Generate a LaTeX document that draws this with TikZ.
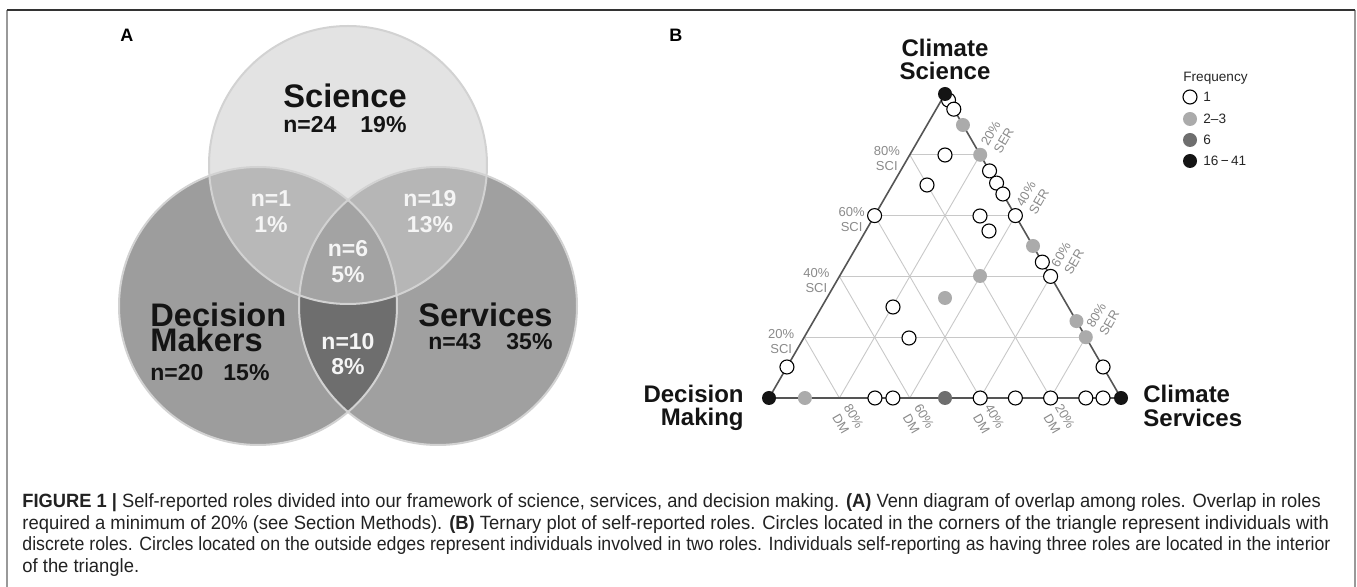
\documentclass[tikz,border=0pt]{standalone}
\usepackage{fontspec}
\setmainfont{Liberation Sans}
\newfontfamily\capfont[FakeStretch=0.96]{Liberation Sans}
\usetikzlibrary{calc}
\definecolor{sciC}{HTML}{E3E3E3}
\definecolor{dmC}{HTML}{9D9D9D}
\definecolor{serC}{HTML}{A0A0A0}
\definecolor{scidmC}{HTML}{B8B8B8}
\definecolor{sciserC}{HTML}{B6B6B6}
\definecolor{tripC}{HTML}{A3A3A3}
\definecolor{dmserC}{HTML}{6E6E6E}
\definecolor{ringC}{HTML}{D2D2D2}
\definecolor{gridC}{HTML}{C8C8C8}
\definecolor{edgeC}{HTML}{555555}
\definecolor{tickC}{HTML}{8A8A8A}
\definecolor{gtwo}{HTML}{ABABAB}
\definecolor{gsix}{HTML}{6E6E6E}
\definecolor{capC}{HTML}{222222}
\definecolor{frameC}{HTML}{999999}
\begin{document}
\begin{tikzpicture}[x=0.5pt,y=-0.5pt,
  vlab/.style={font=\fontsize{16.3}{19}\selectfont\bfseries, text=black!92, inner sep=0pt},
  vnum/.style={font=\fontsize{11.5}{13}\selectfont\bfseries, text=black!92, inner sep=0pt},
  wnum/.style={font=\fontsize{11.5}{13}\selectfont\bfseries, text=white!96!black, inner sep=0pt},
  plab/.style={font=\fontsize{9}{10}\selectfont\bfseries, inner sep=0pt},
  clab/.style={font=\fontsize{12}{11.5}\selectfont\bfseries, text=black!92, inner sep=0pt},
  tlab/.style={font=\fontsize{6.5}{7.5}\selectfont, text=tickC, inner sep=0pt, align=center},
  gridline/.style={draw=gridC, line width=0.45pt},
  edgeline/.style={draw=edgeC, line width=0.8pt},
  ring/.style={draw=ringC, line width=1pt},
  dot/.style={circle, inner sep=0pt, minimum size=7pt, line width=0.55pt},
  opendot/.style={dot, draw=black, fill=white},
  twodot/.style={dot, fill=gtwo},
  sixdot/.style={dot, fill=gsix},
  bigdot/.style={dot, fill=black!92},
  capline/.style={font=\capfont\fontsize{9.6}{11}\selectfont, text=capC, inner sep=0pt, anchor=base west},
  leg/.style={font=\fontsize{6.8}{8}\selectfont, text=black!85, inner sep=0pt, anchor=west}
]
\useasboundingbox (0,0) rectangle (1357,587);
% frame
\coordinate (fTL) at (7,10); \coordinate (fTR) at (1355,10);
\coordinate (fBL) at (7,587); \coordinate (fBR) at (1355,587);
\draw[frameC, line width=0.8pt] (fTL) -- (fBL);
\draw[frameC, line width=0.8pt] (fTR) -- (fBR);
\draw[black!80, line width=0.8pt] (fTL) -- (fTR);

% ---------------- Venn ----------------
\coordinate (cDM) at (258,306);
\coordinate (cSER) at (438,306);
\coordinate (cSCI) at (348,165);
\def\rr{69.5pt}
\fill[dmC] (cDM) circle[radius=\rr];
\fill[serC] (cSER) circle[radius=\rr];
\begin{scope}
  \clip (cDM) circle[radius=\rr];
  \fill[dmserC] (cSER) circle[radius=\rr];
\end{scope}
\fill[sciC] (cSCI) circle[radius=\rr];
\begin{scope}
  \clip (cSCI) circle[radius=\rr];
  \fill[scidmC] (cDM) circle[radius=\rr];
  \fill[sciserC] (cSER) circle[radius=\rr];
  \clip (cDM) circle[radius=\rr];
  \fill[tripC] (cSER) circle[radius=\rr];
\end{scope}
\draw[ring] (cDM) circle[radius=\rr];
\draw[ring] (cSER) circle[radius=\rr];
\draw[ring] (cSCI) circle[radius=\rr];

\node[plab, anchor=base west] (labA) at (120,42) {A};
\node[vlab, anchor=base west] (tSci) at (283,108) {Science};
\node[vnum, anchor=base west] (nSci) at (283,133) {n=24\hspace{12pt}19\%};
\node[wnum, anchor=base] (n1a) at (271,207) {n=1};
\node[wnum, anchor=base] (n1b) at (271,233) {1\%};
\node[wnum, anchor=base] (n19a) at (430,207) {n=19};
\node[wnum, anchor=base] (n19b) at (430,233) {13\%};
\node[wnum, anchor=base] (n6a) at (348,257) {n=6};
\node[wnum, anchor=base] (n6b) at (348,283) {5\%};
\node[vlab, anchor=base west] (tDM1) at (150,327) {Decision};
\node[vlab, anchor=base west] (tDM2) at (150,352) {Makers};
\node[vnum, anchor=base west] (nDM) at (150,381) {n=20\hspace{10pt}15\%};
\node[wnum, anchor=base] (n10a) at (348,350) {n=10};
\node[wnum, anchor=base] (n10b) at (348,375) {8\%};
\node[vlab, anchor=base west] (tSer) at (418,327) {Services};
\node[vnum, anchor=base west] (nSer) at (428,350) {n=43\hspace{12.5pt}35\%};

% ---------------- Ternary ----------------
\node[plab, anchor=base west] (labB) at (669,42) {B};
\coordinate (T) at (945,94);
\coordinate (L) at (769,398);
\coordinate (R) at (1121,398);
\foreach \k in {0.2,0.4,0.6,0.8}{
  \draw[gridline] ($(L)!\k!(T)$) -- ($(R)!\k!(T)$);
  \draw[gridline] ($(T)!\k!(L)$) -- ($(R)!\k!(L)$);
  \draw[gridline] ($(T)!\k!(R)$) -- ($(L)!\k!(R)$);
}
\draw[edgeline, line join=round] (T) -- (L) -- (R) -- cycle;

% axis labels
\foreach \k/\p in {0.8/80,0.6/60,0.4/40,0.2/20}{
  \node[tlab] at ($(L)!\k!(T)+(-23,4)$) {\p\%\\SCI};
}
\foreach \k/\p in {0.8/80,0.6/60,0.4/40,0.2/20}{
  \node[tlab, rotate=-60] at ($(R)!\k!(L)+(8,22)$) {\p\%\\DM};
}
\foreach \k/\p in {0.2/20,0.4/40,0.6/60,0.8/80}{
  \node[tlab, rotate=60] at ($(T)!\k!(R)+(17,-18)$) {\p\%\\SER};
}

% corner labels
\node[clab, anchor=base] (csA) at (945,57) {Climate};
\node[clab, anchor=base] (csB) at (945,80) {Science};
\node[clab, anchor=base east] (dmA) at (744,403) {Decision};
\node[clab, anchor=base east] (dmB) at (744,426) {Making};
\node[clab, anchor=base west] (svA) at (1143,403) {Climate};
\node[clab, anchor=base west] (svB) at (1143,427) {Services};

% data points: right edge
\node[opendot] (r1) at ($(T)!0.02!(R)$) {};
\node[opendot] (r2) at ($(T)!0.05!(R)$) {};
\node[bigdot] (vT) at (T) {};
\node[twodot] (r3) at ($(T)!0.102!(R)$) {};
\node[twodot] (r4) at ($(T)!0.2!(R)$) {};
\node[opendot] (r5) at ($(T)!0.253!(R)$) {};
\node[opendot] (r6) at ($(T)!0.293!(R)$) {};
\node[opendot] (r7) at ($(T)!0.329!(R)$) {};
\node[opendot] (r8) at ($(T)!0.4!(R)$) {};
\node[twodot] (r9) at ($(T)!0.5!(R)$) {};
\node[opendot] (r10) at ($(T)!0.553!(R)$) {};
\node[opendot] (r11) at ($(T)!0.6!(R)$) {};
\node[twodot] (r12) at ($(T)!0.747!(R)$) {};
\node[twodot] (r13) at ($(T)!0.8!(R)$) {};
\node[opendot] (r14) at ($(T)!0.898!(R)$) {};
% left edge
\node[opendot] (l1) at ($(T)!0.4!(L)$) {};
\node[opendot] (l2) at ($(T)!0.898!(L)$) {};
% bottom edge
\node[twodot] (b1) at ($(L)!0.102!(R)$) {};
\node[opendot] (b2) at ($(L)!0.301!(R)$) {};
\node[opendot] (b3) at ($(L)!0.352!(R)$) {};
\node[sixdot] (b4) at ($(L)!0.5!(R)$) {};
\node[opendot] (b5) at ($(L)!0.6!(R)$) {};
\node[opendot] (b6) at ($(L)!0.7!(R)$) {};
\node[opendot] (b7) at ($(L)!0.8!(R)$) {};
\node[opendot] (b8) at ($(L)!0.9!(R)$) {};
\node[opendot] (b9) at ($(L)!0.949!(R)$) {};
\node[bigdot] (vL) at (L) {};
\node[bigdot] (vR) at (R) {};
% interior
\node[opendot] (i1) at (945,155) {};
\node[opendot] (i2) at (927,185) {};
\node[opendot] (i3) at (980,216) {};
\node[opendot] (i4) at (989,231) {};
\node[twodot] (i5) at (980,276) {};
\node[twodot] (i6) at (945,298) {};
\node[opendot] (i7) at (893,307) {};
\node[opendot] (i8) at (909,338) {};

% legend
\node[leg, anchor=base west] (legT) at (1183,82) {Frequency};
\node[opendot] (lg1) at (1190,97) {};
\node[twodot] (lg2) at (1190,119) {};
\node[sixdot] (lg3) at (1190,140) {};
\node[bigdot] (lg4) at (1190,161) {};
\node[leg] (lt1) at (1203,97) {1};
\node[leg] (lt2) at (1203,119) {2–3};
\node[leg] (lt3) at (1203,140) {6};
\node[leg] (lt4) at (1203,161) {16\,−\,41};

% caption
\node[capline] (cap1) at (22,508) {\scalebox{0.993}[1]{\textbf{FIGURE 1 |} Self-reported roles divided into our framework of science, services, and decision making. \textbf{(A)} Venn diagram of overlap among roles. Overlap in roles}};
\node[capline] (cap2) at (22,530) {\scalebox{1.0}[1]{required a minimum of 20\% (see Section Methods). \textbf{(B)} Ternary plot of self-reported roles. Circles located in the corners of the triangle represent individuals with}};
\node[capline] (cap3) at (22,551) {\scalebox{0.962}[1]{discrete roles. Circles located on the outside edges represent individuals involved in two roles. Individuals self-reporting as having three roles are located in the interior}};
\node[capline] (cap4) at (22,573) {of the triangle.};
\end{tikzpicture}
\end{document}
